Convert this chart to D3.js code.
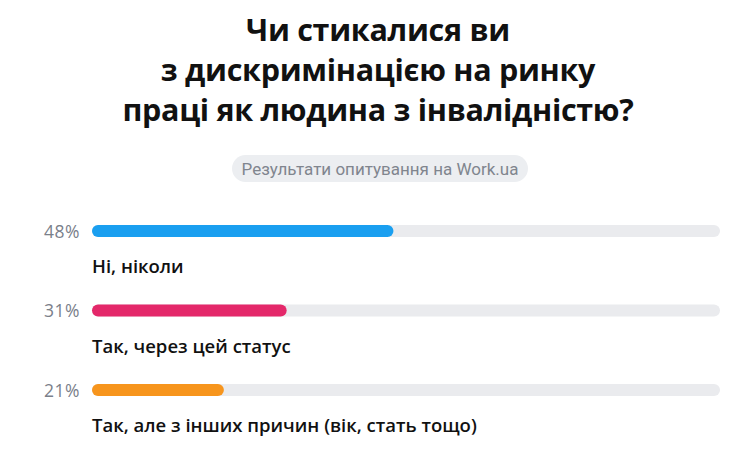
<!DOCTYPE html>
<html><head><meta charset="utf-8">
<script src="https://cdn.jsdelivr.net/npm/d3@7"></script>
<style>html,body{margin:0;padding:0;background:#fff;}svg{display:block;}</style>
</head><body>
<script>
const titleLines = ["Чи стикалися ви", "з дискримінацією на ринку", "праці як людина з інвалідністю?"];
const subtitle = "Результати опитування на Work.ua";
const categories = ["Ні, ніколи", "Так, через цей статус", "Так, але з інших причин (вік, стать тощо)"];
const values = [48, 31, 21];
const colors = ["#1a9ff0", "#e4286a", "#f7951d"];

const W = 733, H = 456;
const svg = d3.select("body").append("svg").attr("width", W).attr("height", H);

svg.append("g").selectAll("text").data(titleLines).join("text")
  .attr("x", 378).attr("y", (d, i) => 41 + i * 40)
  .attr("text-anchor", "middle")
  .attr("font-family", "'Open Sans', 'Noto Sans', sans-serif")
  .attr("font-weight", 700).attr("font-size", 30.5).attr("fill", "#111")
  .attr("letter-spacing", -0.3)
  .text(d => d);

svg.append("rect").attr("x", 232).attr("y", 155).attr("width", 296).attr("height", 27)
  .attr("rx", 13.5).attr("fill", "#eceef1");
svg.append("text").attr("x", 380).attr("y", 174.5).attr("text-anchor", "middle")
  .attr("font-family", "Roboto, sans-serif").attr("font-size", 17).attr("fill", "#80858e")
  .text(subtitle);

const x = d3.scaleLinear().domain([0, 100]).range([92, 720]);
const y = d3.scalePoint().domain(categories).range([231, 390]);
const bh = 12;

const rows = svg.append("g").selectAll("g").data(categories).join("g");
rows.append("rect").attr("x", x(0)).attr("y", d => y(d) - bh / 2)
  .attr("width", x(100) - x(0)).attr("height", bh).attr("rx", bh / 2).attr("fill", "#eaebee");
rows.append("rect").attr("x", x(0)).attr("y", d => y(d) - bh / 2)
  .attr("width", (d, i) => x(values[i]) - x(0)).attr("height", bh).attr("rx", bh / 2)
  .attr("fill", (d, i) => colors[i]);
rows.append("text").attr("x", 80).attr("y", d => y(d) + 6.5).attr("text-anchor", "end")
  .attr("font-family", "'Open Sans', sans-serif").attr("font-weight", 500).attr("font-size", 17.5).attr("fill", "#7a808a")
  .attr("letter-spacing", 0.5)
  .text((d, i) => values[i] + "%");
rows.append("text").attr("x", 92).attr("y", d => y(d) + 42)
  .attr("font-family", "'Open Sans', sans-serif").attr("font-weight", 600).attr("font-size", 18.5).attr("fill", "#111")
  .text(d => d);
</script>
</body></html>
